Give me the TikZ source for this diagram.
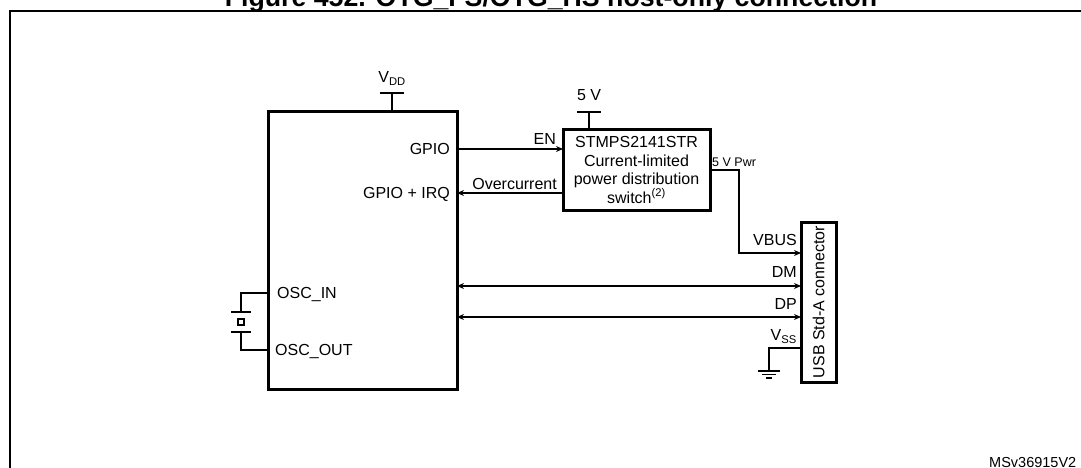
\documentclass[tikz,border=0pt]{standalone}
\usepackage{fontspec}
\setmainfont{Liberation Sans}
\usetikzlibrary{arrows.meta, positioning, calc}

\begin{document}
\begin{tikzpicture}[x=1pt,y=-1pt,
	box/.style={draw,line width=3pt,inner sep=0pt,outer sep=0pt},
	sig/.style={line width=1.5pt},
	arr/.style={sig,-{Stealth[length=7pt,width=6pt]}},
	biarr/.style={sig,{Stealth[length=7pt,width=6pt]}-{Stealth[length=7pt,width=6pt]}},
	lbl/.style={font=\fontsize{16}{18.5}\selectfont,inner sep=0pt,text height=11.5pt,text depth=0pt},
	tinylbl/.style={font=\fontsize{12.5}{14}\selectfont,inner sep=0pt,text height=9pt,text depth=0pt}]
	\useasboundingbox (0,0) rectangle (1081,468);
	\begin{scope}
		\clip (0,0) rectangle (1081,468);
		\draw[line width=2pt] (10,11) rectangle (1100,490);
		\node[font=\bfseries\fontsize{26.7}{30}\selectfont,inner sep=0pt,anchor=base] (title) at (551,7) {Figure 452. OTG\_FS/OTG\_HS host-only connection};
		\node[font=\fontsize{14.5}{17}\selectfont,inner sep=0pt,anchor=base west] (ref) at (989,467) {MSv36915V2};
	\end{scope}

	\node[box,minimum width=189,minimum height=277] (mcu) at (362.5,250.5) {};
	\node[lbl,anchor=east] (gpio) at (450,149) {GPIO};
	\node[lbl,anchor=east] (gpioirq) at (450,193) {GPIO + IRQ};
	\node[lbl,anchor=west] (oscin) at (277,293) {OSC\_IN};
	\node[lbl,anchor=west] (oscout) at (275,350) {OSC\_OUT};

	\coordinate (vdd) at (392,93);
	\draw[sig] (vdd |- mcu.north) -- (vdd);
	\draw[sig] ([xshift=-12pt]vdd) -- ([xshift=12pt]vdd);
	\node[lbl,above=10pt of vdd] (vddlbl) {V\textsubscript{DD}};

	\node[box,minimum width=147,minimum height=80] (sw) at (636.5,170) {};
	\node[lbl,text height=,text depth=,align=center] (swtxt) at (sw.center) {STMPS2141STR\\Current-limited\\power distribution\\switch\textsuperscript{(2)}};
	\coordinate (fivev) at (589,112);
	\draw[sig] (fivev |- sw.north) -- (fivev);
	\draw[sig] ([xshift=-12pt]fivev) -- ([xshift=12pt]fivev);
	\node[lbl,above=11pt of fivev] (fivevlbl) {5 V};

	\draw[arr] (gpio.east -| mcu.east) -- (gpio.east -| sw.west);
	\node[lbl,anchor=east] (en) at (556,138.5) {EN};
	\draw[arr] (gpioirq.east -| sw.west) -- (gpioirq.east -| mcu.east);
	\node[lbl,anchor=east] (oc) at (557,184) {Overcurrent};

	\node[box,minimum width=35,minimum height=160] (usb) at (818.5,302) {};
	\node[lbl,rotate=90] (usbtxt) at (usb.center) {USB Std-A connector};
	\coordinate (vbusin) at (usb.west |- 0,253);
	\coordinate (dmin) at (usb.west |- 0,286);
	\coordinate (dpin) at (usb.west |- 0,317);
	\coordinate (vssin) at (usb.west |- 0,348);
	\node[lbl,anchor=east] (vbus) at (797,240) {VBUS};
	\node[lbl,anchor=east] (dm) at (797,272) {DM};
	\node[lbl,anchor=east] (dp) at (797,304) {DP};
	\node[lbl,anchor=east] (vss) at (797,335) {V\textsubscript{SS}};

	\coordinate (pwrbend) at (739,170);
	\draw[arr] (sw.east |- pwrbend) -- (pwrbend) |- (vbusin);
	\node[tinylbl,anchor=west] (pwr) at (712,162) {5 V Pwr};
	\draw[biarr] (dmin -| mcu.east) -- (dmin);
	\draw[biarr] (dpin -| mcu.east) -- (dpin);

	\coordinate (gnd) at (769,371);
	\draw[sig] (vssin) -| (gnd);
	\draw[sig] ([xshift=-11pt]gnd) -- ([xshift=11pt]gnd);
	\draw[sig] ([xshift=-7pt,yshift=-3.5pt]gnd) -- ([xshift=7pt,yshift=-3.5pt]gnd);
	\draw[sig] ([xshift=-3pt,yshift=-7pt]gnd) -- ([xshift=3pt,yshift=-7pt]gnd);

	\coordinate (xtal) at (241,322);
	\draw[sig] (oscin.west -| mcu.west) -| ([yshift=10pt]xtal);
	\draw[sig] (oscout.west -| mcu.west) -| ([yshift=-10pt]xtal);
	\draw[sig] ([xshift=-10pt,yshift=10pt]xtal) -- ([xshift=10pt,yshift=10pt]xtal);
	\draw[sig] ([xshift=-10pt,yshift=-10pt]xtal) -- ([xshift=10pt,yshift=-10pt]xtal);
	\node[draw,line width=1.2pt,minimum size=6pt,inner sep=0pt] (quartz) at (xtal) {};
\end{tikzpicture}
\end{document}
